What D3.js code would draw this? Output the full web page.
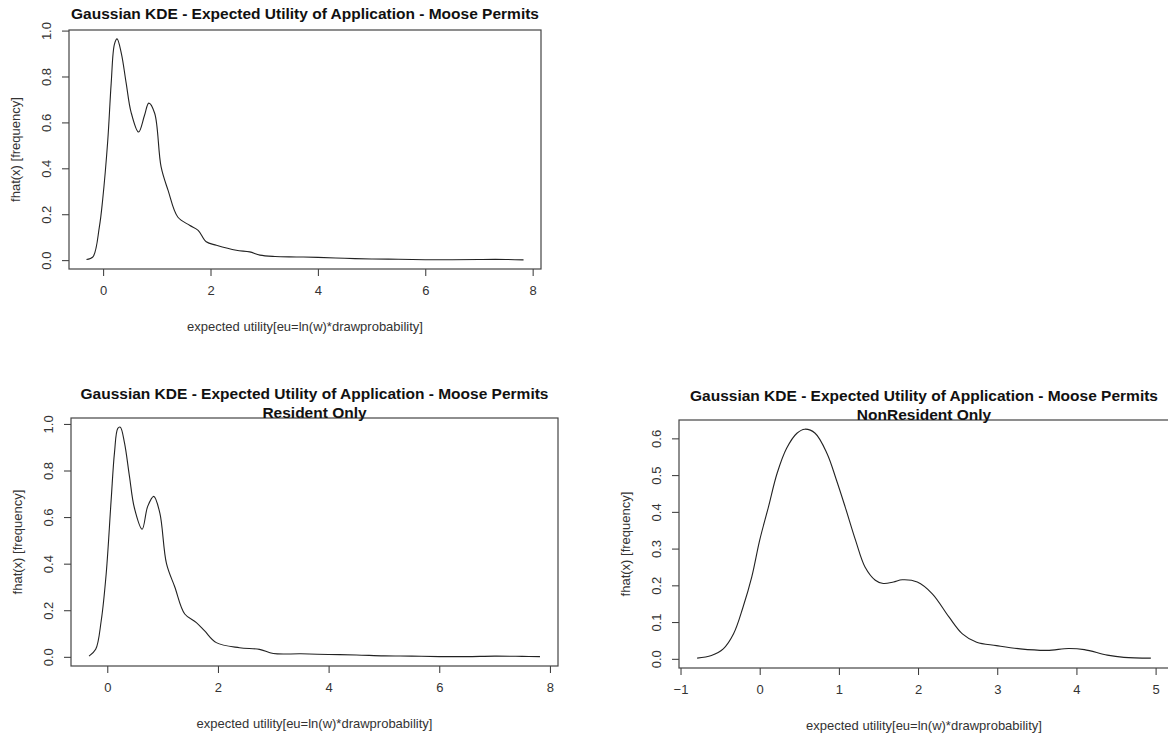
<!DOCTYPE html>
<html>
<head>
<meta charset="utf-8">
<script src="https://cdn.jsdelivr.net/npm/d3@7"></script>
<style>
  body { margin: 0; background: #fff; }
  svg { display: block; font-family: "Liberation Sans", Arial, sans-serif; }
</style>
</head>
<body>
<div id="chart"></div>
<script>
// KDE curves
var allX = [-0.31, -0.19, -0.07, -0.01, 0.086, 0.15, 0.21, 0.26, 0.34, 0.43, 0.52, 0.66, 0.77, 0.85, 0.96,
  1.08, 1.21, 1.39, 1.61, 1.77, 1.92, 2.11, 2.48, 2.73, 2.92, 3.2, 3.6, 4.0, 4.5, 5.0, 5.5, 6.0, 6.5, 7.0, 7.5, 7.83];
var allY = [0.003, 0.014, 0.145, 0.26, 0.52, 0.77, 0.94, 0.964, 0.90, 0.77, 0.645, 0.558, 0.63, 0.684, 0.64,
  0.406, 0.304, 0.188, 0.152, 0.13, 0.08, 0.065, 0.043, 0.036, 0.022, 0.016, 0.014, 0.012, 0.008, 0.005, 0.004, 0.002, 0.002, 0.003, 0.003, 0.001];

var resX = [-0.33, -0.21, -0.11, -0.02, 0.07, 0.13, 0.19, 0.235, 0.31, 0.40, 0.49, 0.63, 0.73, 0.84, 0.95,
  1.07, 1.22, 1.40, 1.61, 1.76, 1.97, 2.39, 2.75, 3.0, 3.5, 4.0, 4.5, 5.0, 5.5, 6.0, 6.5, 7.0, 7.5, 7.82];
var resY = [0.003, 0.032, 0.155, 0.357, 0.675, 0.877, 0.981, 0.986, 0.92, 0.776, 0.639, 0.548, 0.646, 0.689, 0.617,
  0.40, 0.30, 0.184, 0.147, 0.111, 0.061, 0.039, 0.032, 0.014, 0.013, 0.010, 0.008, 0.004, 0.003, 0.001, 0.001, 0.003, 0.002, 0.001];

var nonresX = [-0.79, -0.61, -0.46, -0.33, -0.21, -0.10, 0.0, 0.11, 0.22, 0.34, 0.47, 0.57, 0.70, 0.85, 0.97,
  1.08, 1.21, 1.33, 1.46, 1.56, 1.69, 1.80, 1.99, 2.18, 2.39, 2.56, 2.74, 2.99, 3.29, 3.63, 3.90, 4.10, 4.39, 4.60, 4.94];
var nonresY = [0.002, 0.009, 0.027, 0.068, 0.141, 0.223, 0.323, 0.413, 0.505, 0.573, 0.614, 0.625, 0.614, 0.559, 0.486,
  0.413, 0.323, 0.25, 0.214, 0.205, 0.209, 0.215, 0.209, 0.177, 0.114, 0.068, 0.045, 0.036, 0.027, 0.023, 0.028, 0.025, 0.01, 0.004, 0.002];

var ticksX8 = [0, 2, 4, 6, 8];
var ticksY10 = [0, 0.2, 0.4, 0.6, 0.8, 1.0];
var ticksX5 = [-1, 0, 1, 2, 3, 4, 5];
var ticksY6 = [0, 0.1, 0.2, 0.3, 0.4, 0.5, 0.6];

var mainTitle = "Gaussian KDE - Expected Utility of Application - Moose Permits";
var xTitle = "expected utility[eu=ln(w)*drawprobability]";
var yTitle = "fhat(x) [frequency]";

var svg = d3.select("#chart")
  .append("svg")
    .attr("width", 1168)
    .attr("height", 738);

// R style: pad the data range by 4% on each side
function padded(vals) {
  var e = d3.extent(vals), d = (e[1] - e[0]) * 0.04;
  return [e[0] - d, e[1] + d];
}

function drawPanel(p) {
  var g = svg.append("g")
    .attr("transform", "translate(" + p.left + "," + p.top + ")");

  var x = d3.scaleLinear().domain(padded(p.xs)).range([0, p.width]);
  var y = d3.scaleLinear().domain(padded(p.ys.concat([0]))).range([p.height, 0]);

  // x axis
  var xa = g.append("g")
    .attr("transform", "translate(0," + p.height + ")")
    .call(d3.axisBottom(x).tickValues(p.xt).tickSize(7).tickFormat(d3.format("d")));
  xa.select(".domain").remove();
  xa.selectAll("line").attr("stroke", "#333");
  xa.selectAll("text").attr("font-size", 13).attr("fill", "#333").attr("y", 17);

  // y axis, labels turned like R's
  var ya = g.append("g")
    .call(d3.axisLeft(y).tickValues(p.yt).tickSize(7).tickFormat(d3.format(".1f")));
  ya.select(".domain").remove();
  ya.selectAll("line").attr("stroke", "#333");
  ya.selectAll("text")
    .attr("font-size", 13).attr("fill", "#333")
    .attr("text-anchor", "middle")
    .attr("x", 0).attr("y", -23).attr("dy", "0.35em")
    .attr("transform", "rotate(-90)");

  // box
  g.append("rect")
    .attr("width", p.width).attr("height", p.height)
    .attr("fill", "none").attr("stroke", "#444").attr("stroke-width", 1.2);

  var pts = p.xs.map(function(d, i) { return [d, p.ys[i]]; });
  g.append("path")
    .datum(pts)
    .attr("fill", "none")
    .attr("stroke", "#222")
    .attr("stroke-width", 1.1)
    .attr("d", d3.line()
      .curve(d3.curveCatmullRom.alpha(0.5))
      .x(function(d) { return x(d[0]); })
      .y(function(d) { return y(d[1]); }));

  // titles
  var cx = p.width / 2;
  var t = g.append("text")
    .attr("x", cx).attr("text-anchor", "middle")
    .attr("font-size", 15.5).attr("font-weight", "bold").attr("fill", "#111");
  if (p.sub) {
    t.attr("y", -19).text(mainTitle);
    g.append("text")
      .attr("x", cx).attr("y", 0).attr("text-anchor", "middle")
      .attr("font-size", 15.5).attr("font-weight", "bold").attr("fill", "#111")
      .text(p.sub);
  } else {
    t.attr("y", -11).text(mainTitle);
  }

  g.append("text")
    .attr("x", cx).attr("y", p.height + 57).attr("dy", "0.35em")
    .attr("text-anchor", "middle").attr("font-size", 13).attr("fill", "#333")
    .text(xTitle);

  g.append("text")
    .attr("transform", "translate(-54," + (p.height / 2) + ") rotate(-90)")
    .attr("dy", "0.35em")
    .attr("text-anchor", "middle").attr("font-size", 13).attr("fill", "#333")
    .text(yTitle);
}

drawPanel({left: 69, top: 30, width: 472, height: 239, xs: allX, ys: allY, xt: ticksX8, yt: ticksY10});
drawPanel({left: 71, top: 418, width: 487, height: 248, xs: resX, ys: resY, xt: ticksX8, yt: ticksY10, sub: "Resident Only"});
drawPanel({left: 679, top: 420, width: 490, height: 248, xs: nonresX, ys: nonresY, xt: ticksX5, yt: ticksY6, sub: "NonResident Only"});
</script>
</body>
</html>
